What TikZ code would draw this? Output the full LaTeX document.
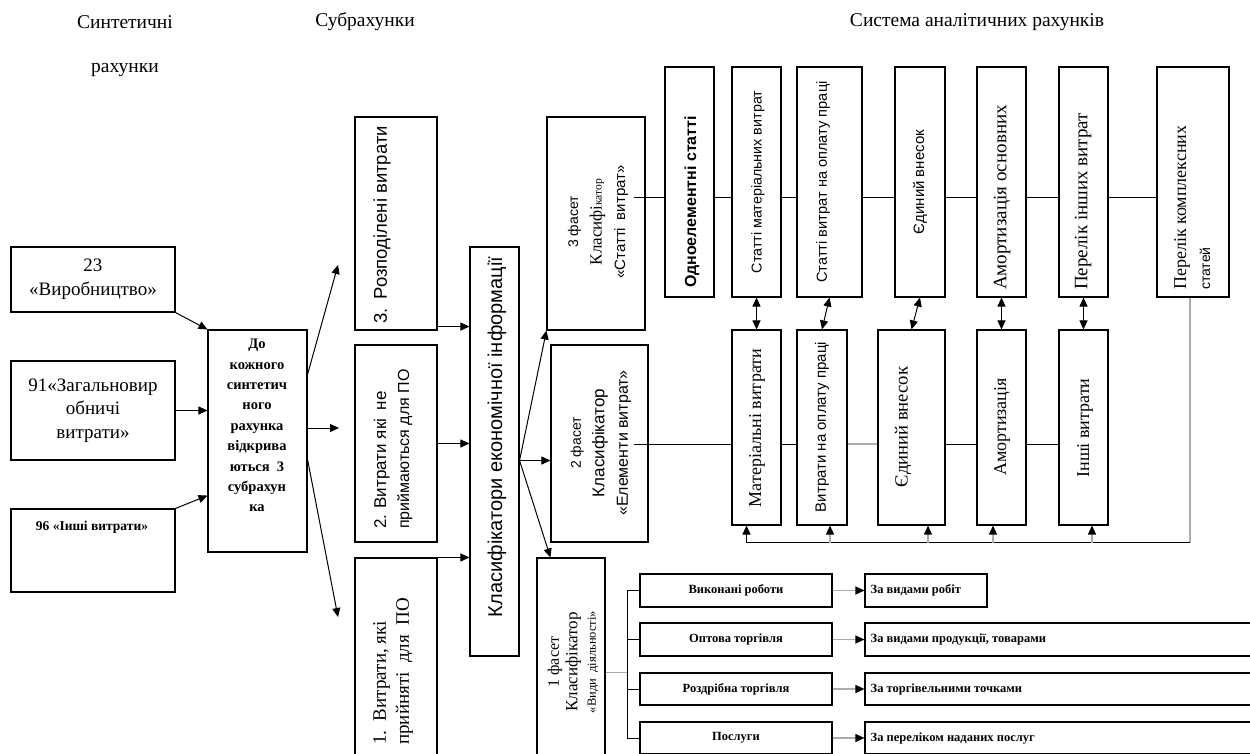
\documentclass[tikz,border=0pt]{standalone}
\usepackage{fontspec}
\setmainfont{Liberation Serif}
\setsansfont{Liberation Sans}
\usetikzlibrary{arrows.meta,calc}
\newcommand\fs[2]{\fontsize{#1}{#2}\selectfont}
\newcommand\bx[5]{\node[box,minimum width={#4pt-#2pt},minimum height={#5pt-#3pt}] (#1) at ({(#2+#4)/2},{(#3+#5)/2}) {};}
\begin{document}
\begin{tikzpicture}[x=1pt,y=-1pt,
  box/.style={draw,line width=1.1pt,inner sep=0pt,rectangle},
  arr/.style={line width=1pt,-{Triangle[length=9pt,width=8pt]}},
  darr/.style={line width=1pt,{Triangle[length=9pt,width=8pt]}-{Triangle[length=9pt,width=8pt]}},
  ln/.style={line width=1pt},
  gln/.style={line width=1.3pt,draw=gray!65},
  garr/.style={line width=1.3pt,draw=gray!65,-{Triangle[length=9pt,width=8pt,color=black]}},
  txt/.style={inner sep=0pt},
  vt/.style={inner sep=0pt,rotate=90}]
\fill[white] (0,0) rectangle (1250,753);
\useasboundingbox (0,0) rectangle (1250,753);

% headers
\node[txt,font=\fs{19.5}{23}] (hs1) at (125,22) {Синтетичні};
\node[txt,font=\fs{19.5}{23}] (hs2) at (125,70) {рахунки};
\node[txt,font=\fs{19.5}{23}] (hsub) at (365,22) {Субрахунки};
\node[txt,font=\fs{19.5}{23}] (hsys) at (977,22) {Система аналітичних рахунків};

% synthetic accounts
\bx{b23}{11}{247}{175}{312}
\node[txt,align=center,font=\fs{19}{24}] (b23t) at (b23) {23\\«Виробництво»};
\bx{b91}{11}{361}{175}{460}
\node[txt,align=center,font=\fs{19}{23.5}] (b91t) at (b91) {91«Загальновир\\обничі\\витрати»};
\bx{b96}{11}{509}{175}{592}
\node[txt,font=\fs{13.5}{16}\bfseries] (b96t) at (92,527) {96 «Інші витрати»};
\bx{bdo}{208}{330}{307}{552}
\node[txt,align=center,anchor=north,font=\fs{14.5}{20.4}\bfseries] (bdot) at (257,339) {До\\кожного\\синтетич\\ного\\рахунка\\відкрива\\ються\enspace 3\\субрахун\\ка};

\draw[arr] (b23.south east) -- (bdo.north west);
\draw[arr] (b91.east) -- (b91.east -| bdo.west);
\draw[arr] (b96.north east) -- ($(bdo.south west)+(0,-57)$);

\coordinate (u3) at (338,265);
\coordinate (u2) at (339,428);
\coordinate (u1) at (338,617);
\draw[arr] ($(bdo.north east)+(0,45)$) -- (u3);
\draw[arr] ($(bdo.east)+(0,-13)$) -- (u2);
\draw[arr] ($(bdo.north east)+(0,130)$) -- (u1);

% subaccounts
\bx{s3}{355}{117}{437}{330}
\node[vt,anchor=west,font=\sffamily\fs{18.5}{22}] (s3t) at (382,324) {3.\enspace Розподілені витрати};
\bx{s2}{355}{345}{437}{542}
\node[vt,anchor=west,align=left,font=\sffamily\fs{16}{23}] (s2t) at (393,529) {{\fs{17}{23}2. Витрати які\enspace не}\\приймаються для ПО};
\bx{s1}{355}{558}{437}{800}
\node[vt,anchor=west,align=left,font=\fs{19}{23}] (s1t) at (393,745) {1.\enspace Витрати, які\\прийняті\enspace для\enspace ПО};

% classifiers
\bx{kl}{470}{247}{519}{656}
\node[vt,font=\sffamily\fs{20}{22}] (klt) at (497,437) {Класифікатори економічної інформації};

\coordinate (p3) at ($(s3.south east)+(0,-4)$);
\draw[arr] (p3) -- (p3 -| kl.west);
\draw[arr] (s2.east) -- (s2.east -| kl.west);
\draw[arr] (s1.north east) -- (s1.north east -| kl.west);

% facets
\bx{f3}{547}{117}{645}{330}
\node[vt,align=center,font=\fs{17}{23.5}] (f3t) at (598,222) {{\sffamily\fs{14}{23.5}3 фасет}\\Класифі{\fs{11.5}{23.5}катор}\\{\sffamily\fs{15}{23.5}«Статті\enspace витрат»}};
\bx{f2}{551}{345}{648}{542}
\node[vt,align=center,font=\sffamily\fs{17}{23.5}] (f2t) at (601,443) {{\fs{14}{23.5}2 фасет}\\Класифікатор\\{\fs{16}{23.5}«Елементи витрат»}};
\bx{f1}{537}{558}{605}{800}
\node[vt,align=center,font=\fs{17}{18.5}] (f1t) at (573,662) {{\fs{16}{18.5}1 фасет}\\Класифікатор\\{\fs{12.5}{18.5}«Види\enspace діяльності»}};

\coordinate (ko) at ($(kl.east)+(0,9)$);
\draw[arr] (ko) -- (f3.south west);
\draw[arr] (ko) -- (ko -| f2.west);
\draw[arr] (ko) -- ($(f1.north west)+(14,0)$);

% top row
\bx{t1}{665}{67}{714}{297}
\bx{t2}{732}{67}{781}{297}
\bx{t3}{797}{67}{862}{297}
\bx{t4}{895}{67}{945}{297}
\bx{t5}{977}{67}{1026}{297}
\bx{t6}{1059}{67}{1108}{297}
\bx{t7}{1157}{67}{1229}{297}
\node[vt,anchor=west,font=\sffamily\bfseries\fs{16}{19}] (t1t) at (692,288) {Одноелементні статті};
\node[vt,font=\sffamily\fs{14.3}{17}] (t2t) at (758,182) {Статті матеріальних витрат};
\node[vt,font=\sffamily\fs{14.6}{17}] (t3t) at (823,182) {Статті витрат на оплату праці};
\node[vt,font=\sffamily\fs{15}{17}] (t4t) at (920,182) {Єдиний внесок};
\node[vt,anchor=west,font=\fs{19}{22}] (t5t) at (1002,290) {Амортизація основних};
\node[vt,anchor=west,font=\fs{19}{22}] (t6t) at (1083,290) {Перелік інших витрат};
\node[vt,anchor=west,font=\fs{18}{22}] (t7t) at (1182,290) {Перелік комплексних};
\node[vt,anchor=west,font=\sffamily\fs{14}{17}] (t7u) at (1205,290) {статей};

\coordinate (ly) at (0,197);
\path (f3.east |- ly) coordinate (f3e);
\draw[ln] ($(f3e)+(-12,0)$) -- (t1.west |- ly);
\foreach \a/\b in {t1/t2,t2/t3,t3/t4,t4/t5,t5/t6,t6/t7}
  \draw[ln] (\a.east |- ly) -- (\b.west |- ly);

% second row
\bx{m1}{732}{330}{781}{525}
\bx{m2}{797}{330}{847}{525}
\bx{m3}{878}{330}{945}{525}
\bx{m4}{977}{330}{1026}{525}
\bx{m5}{1059}{330}{1108}{525}
\node[vt,font=\fs{18}{21}] (m1t) at (757,428) {Матеріальні витрати};
\node[vt,font=\sffamily\fs{15}{18}] (m2t) at (822,427) {Витрати на оплату праці};
\node[vt,font=\fs{18.6}{21}] (m3t) at (903,427) {Єдиний внесок};
\node[vt,font=\fs{18}{21}] (m4t) at (1002,427) {Амортизація};
\node[vt,font=\fs{18}{21}] (m5t) at (1085,428) {Інші витрати};

\coordinate (ly2) at (0,444);
\path (f2.east |- ly2) coordinate (f2e);
\draw[ln] ($(f2e)+(-15,0)$) -- (m1.west |- ly2);
\draw[ln] (m1.east |- ly2) -- (m2.west |- ly2);
\draw[gln] (m2.east |- ly2) -- (m3.west |- ly2);
\draw[ln] (m3.east |- ly2) -- (m4.west |- ly2);
\draw[ln] (m4.east |- ly2) -- (m5.west |- ly2);

\foreach \a/\b in {t2/m1,t3/m2,t4/m3,t5/m4,t6/m5}
  \draw[darr] (\a.south) -- (\b.north);

% feedback line
\coordinate (fb) at ($(m1.south)+(-10,17)$);
\path ($(t7.south)+(-3,0)$) coordinate (t7b);
\draw[gln] (t7b) -- (t7b |- fb);
\draw[ln] (t7b |- fb) -- (fb);
\draw[arr] (fb) -- ($(m1.south)+(-10,0)$);
\draw[garr] ($(m2.south)+(8,17)$) -- ($(m2.south)+(8,0)$);
\draw[garr] ($(m3.south)+(16.5,17)$) -- ($(m3.south)+(16.5,0)$);
\draw[garr] ($(m4.south)+(-8.5,17)$) -- ($(m4.south)+(-8.5,0)$);
\draw[garr] ($(m5.south)+(8.5,17)$) -- ($(m5.south)+(8.5,0)$);

% activities
\bx{v1}{640}{574}{832}{607}
\bx{v2}{640}{623}{832}{656}
\bx{v3}{640}{673}{832}{705}
\bx{v4}{640}{722}{832}{754}
\node[txt,font=\fs{12.5}{14}\bfseries] (v1t) at (v1) {Виконані роботи};
\node[txt,font=\fs{12.5}{14}\bfseries] (v2t) at (v2) {Оптова торгівля};
\node[txt,font=\fs{12.5}{14}\bfseries] (v3t) at (v3) {Роздрібна торгівля};
\node[txt,font=\fs{12.5}{14}\bfseries] (v4t) at (v4) {Послуги};

\bx{r1}{865}{574}{987}{607}
\bx{r2}{865}{623}{1256}{656}
\bx{r3}{865}{673}{1256}{705}
\bx{r4}{865}{722}{1256}{754}
\node[txt,anchor=west,font=\fs{12.5}{14}\bfseries] (r1t) at ($(r1.west)+(6,0)$) {За видами робіт};
\node[txt,anchor=west,font=\fs{12.5}{14}\bfseries] (r2t) at ($(r2.west)+(6,0)$) {За видами продукції, товарами};
\node[txt,anchor=west,font=\fs{12.5}{14}\bfseries] (r3t) at ($(r3.west)+(6,0)$) {За торгівельними точками};
\node[txt,anchor=west,font=\fs{12.5}{14}\bfseries] (r4t) at ($(r4.west)+(6,0)$) {За переліком наданих послуг};

\coordinate (busx) at ($(v1.west)+(-12,0)$);
\draw[ln] (v1.west) -- (busx) |- (v4.west);
\draw[ln] (v2.west) -- (v2.west -| busx);
\draw[ln] (v3.west) -- (v3.west -| busx);
\coordinate (f1o) at ($(f1.north east)+(0,115)$);
\draw[gln] (f1o) -- (f1o -| busx);

\draw[garr] (v1.east) -- (v1.east -| r1.west);
\draw[garr] (v2.east) -- (v2.east -| r2.west);
\draw[garr] (v3.east) -- (v3.east -| r3.west);
\draw[garr] (v4.east) -- (v4.east -| r4.west);
\end{tikzpicture}
\end{document}
